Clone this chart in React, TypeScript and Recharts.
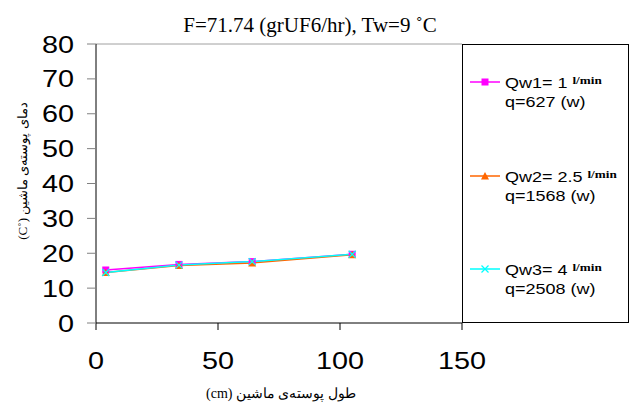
import React from 'react';
import { LineChart, Line, XAxis, YAxis, ReferenceLine, Customized } from 'recharts';

const positions = [4, 34, 64, 105];
const qw1 = [15.2, 16.8, 17.6, 19.7];
const qw2 = [14.5, 16.5, 17.2, 19.6];
const qw3 = [14.5, 16.6, 17.6, 19.7];
const xTicks = [0, 50, 100, 150];
const yTicks = [0, 10, 20, 30, 40, 50, 60, 70, 80];

const seriesNames = ['Qw1= 1 ', 'Qw2= 2.5 ', 'Qw3= 4 '];
const seriesPower = ['q=627 (w)', 'q=1568 (w)', 'q=2508 (w)'];
const colors = ['#FF00FF', '#FF6600', '#00FFFF'];

const data = positions.map((x, i) => ({ x, qw1: qw1[i], qw2: qw2[i], qw3: qw3[i] }));

const SERIF = "'Times New Roman', 'Liberation Serif', 'DejaVu Serif', serif";
const SANS = "Arial, 'Liberation Sans', sans-serif";
const STRETCH = 1.2;

const Marker = ({ kind, cx, cy, color }: any) => {
  if (cx == null || cy == null) return null;
  if (kind === 0) {
    return <rect x={cx - 3.5} y={cy - 3.5} width={7} height={7} fill={color} />;
  }
  if (kind === 1) {
    return <polygon points={`${cx},${cy - 4} ${cx + 4},${cy + 3.5} ${cx - 4},${cy + 3.5}`} fill={color} />;
  }
  return (
    <g stroke={color} strokeWidth={1.3}>
      <line x1={cx - 3.5} y1={cy - 3.5} x2={cx + 3.5} y2={cy + 3.5} />
      <line x1={cx - 3.5} y1={cy + 3.5} x2={cx + 3.5} y2={cy - 3.5} />
    </g>
  );
};

const XTick = ({ x, y, payload }: any) => (
  <g transform={`translate(${x},${y}) scale(${STRETCH},1)`}>
    <text x={0} y={0} dy="0.71em" textAnchor="middle" fontFamily={SANS} fontSize={24} fill="#000">
      {payload.value}
    </text>
  </g>
);

const YTick = ({ x, y, payload }: any) => (
  <g transform={`translate(${x},${y}) scale(${STRETCH},1)`}>
    <text x={0} y={0} dy="0.355em" textAnchor="end" fontFamily={SANS} fontSize={24} fill="#000">
      {payload.value}
    </text>
  </g>
);

const LegendBox = () => {
  const lineYs = [82, 176, 269];
  return (
    <svg width={168} height={280} style={{ display: 'block' }}>
      <rect x={0.5} y={0.5} width={166} height={278} fill="none" stroke="#000" strokeWidth={1} />
      {lineYs.map((ly, i) => {
        const y = ly - 44;
        return (
          <g key={i}>
            <line x1={8} y1={y} x2={38} y2={y} stroke={colors[i]} strokeWidth={1.5} />
            <Marker kind={i} cx={23} cy={y} color={colors[i]} />
            <g transform={`translate(43,${y + 5.5}) scale(${STRETCH},1)`}>
              <text x={0} y={0} fontFamily={SANS} fontSize={15} fill="#000">
                {seriesNames[i]}
                <tspan fontFamily={SERIF} fontWeight="bold" fontSize={11} dy={-4}>l/min</tspan>
              </text>
            </g>
            <g transform={`translate(43,${y + 24.5}) scale(${STRETCH},1)`}>
              <text x={0} y={0} fontFamily={SANS} fontSize={15} fill="#000">
                {seriesPower[i]}
              </text>
            </g>
          </g>
        );
      })}
    </svg>
  );
};

const Texts = () => (
  <g>
    <text x={310} y={32} textAnchor="middle" fontFamily={SERIF} fontSize={21} fill="#000">
      F=71.74 (grUF6/hr), Tw=9 ˚C
    </text>
    <text x={281} y={398} textAnchor="middle" direction="rtl" fontFamily={SERIF} fontSize={14} fill="#000">
      طول پوسته‌ی ماشین (cm)
    </text>
    <text
      x={0}
      y={0}
      transform="translate(27,171) rotate(-90)"
      textAnchor="middle"
      direction="rtl"
      fontFamily={SERIF}
      fontSize={13}
      fill="#000"
    >
      دمای پوسته‌ی ماشین (˚C)
    </text>
  </g>
);

export default function App() {
  return (
    <div style={{ position: 'absolute', left: 0, top: 0, width: 630, height: 407, background: '#fff' }}>
      <LineChart width={630} height={407} data={data} margin={{ top: 44, right: 168, bottom: 0, left: 0 }}>
        <ReferenceLine y={80} stroke="#A0A0A0" strokeWidth={1} />
        <XAxis
          dataKey="x"
          type="number"
          domain={[0, 150]}
          ticks={xTicks}
          height={84}
          axisLine={{ stroke: '#000', strokeWidth: 1 }}
          tickLine={{ stroke: '#000' }}
          tickSize={7}
          tickMargin={22}
          tick={<XTick />}
          interval={0}
        />
        <YAxis
          type="number"
          domain={[0, 80]}
          ticks={yTicks}
          width={96}
          axisLine={{ stroke: '#000', strokeWidth: 1 }}
          tickLine={{ stroke: '#808080' }}
          tickSize={9}
          tickMargin={13}
          tick={<YTick />}
          interval={0}
        />
        <Line
          dataKey="qw1"
          stroke={colors[0]}
          strokeWidth={1.5}
          isAnimationActive={false}
          dot={(p: any) => <Marker key={`a${p.index}`} kind={0} cx={p.cx} cy={p.cy} color={colors[0]} />}
          activeDot={false}
        />
        <Line
          dataKey="qw2"
          stroke={colors[1]}
          strokeWidth={1.5}
          isAnimationActive={false}
          dot={(p: any) => <Marker key={`b${p.index}`} kind={1} cx={p.cx} cy={p.cy} color={colors[1]} />}
          activeDot={false}
        />
        <Line
          dataKey="qw3"
          stroke={colors[2]}
          strokeWidth={1.5}
          isAnimationActive={false}
          dot={(p: any) => <Marker key={`c${p.index}`} kind={2} cx={p.cx} cy={p.cy} color={colors[2]} />}
          activeDot={false}
        />
        <Customized component={Texts} />
      </LineChart>
      <div style={{ position: 'absolute', left: 462, top: 44, width: 168, height: 280 }}>
        <LegendBox />
      </div>
    </div>
  );
}
